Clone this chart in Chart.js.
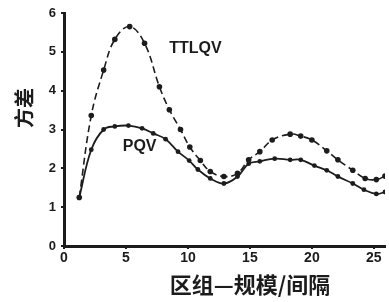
<!DOCTYPE html>
<html>
<head>
<meta charset="utf-8">
<script src="https://cdn.jsdelivr.net/npm/chart.js@4/dist/chart.umd.min.js"></script>
<style>
    html, body { margin: 0; padding: 0; background: #fff; }
    #wrap { width: 389px; height: 302px; }
</style>
</head>
<body>
<div id="wrap"><canvas id="chart"></canvas></div>
<script>
// block size values
const ttlqvX = [1.23, 2.2, 3.2, 4.1, 5.3, 6.5, 7.7, 8.5, 9.4, 10.15, 11.0, 11.8, 12.9, 14.0, 14.9, 15.8, 16.8, 18.25, 19.1, 20.0, 21.2, 22.1, 23.3, 24.3, 25.2, 25.9];
const ttlqvY = [1.25, 3.36, 4.53, 5.32, 5.65, 5.22, 4.1, 3.51, 3.0, 2.55, 2.2, 1.92, 1.79, 1.87, 2.22, 2.43, 2.73, 2.88, 2.83, 2.73, 2.45, 2.22, 1.95, 1.74, 1.71, 1.8];
const pqvX = [1.23, 2.2, 3.2, 4.1, 5.2, 6.3, 7.2, 8.2, 9.2, 10.1, 10.8, 11.8, 12.9, 14.0, 14.9, 15.8, 17.0, 18.25, 19.1, 20.2, 21.2, 22.1, 23.3, 24.2, 25.2, 25.9];
const pqvY = [1.25, 2.48, 3.0, 3.08, 3.1, 3.03, 2.9, 2.75, 2.43, 2.2, 1.97, 1.74, 1.61, 1.79, 2.12, 2.18, 2.25, 2.22, 2.22, 2.07, 1.95, 1.79, 1.61, 1.45, 1.34, 1.39];
const seriesNames = ["TTLQV", "PQV"];
const xTitle = "区组—规模/间隔";
const yTitle = "方差";

const ink = "#1c1c1c";
const toPoints = (xs, ys) => xs.map((x, i) => ({ x: x, y: ys[i] }));

// series names and axis titles drawn where the picture has them
const textPlugin = {
    id: "texts",
    afterDraw(chart) {
        const { ctx, scales } = chart;
        ctx.save();
        ctx.fillStyle = ink;
        ctx.textAlign = "center";
        ctx.textBaseline = "middle";
        ctx.font = 'bold 16px "Liberation Sans", Arial, sans-serif';
        ctx.fillText(seriesNames[0], scales.x.getPixelForValue(10.6), scales.y.getPixelForValue(5.08));
        ctx.fillText(seriesNames[1], scales.x.getPixelForValue(6.1), scales.y.getPixelForValue(2.55));

        ctx.font = 'bold 22px "Noto Sans CJK SC", sans-serif';
        ctx.fillText(xTitle, 250, 285);
        ctx.font = 'bold 20px "Noto Sans CJK SC", sans-serif';
        ctx.translate(24, 108);
        ctx.rotate(-Math.PI / 2);
        ctx.fillText(yTitle, 0, 0);
        ctx.restore();
    },
};

new Chart(document.getElementById("chart"), {
    type: "line",
    data: {
        datasets: [
            {
                label: seriesNames[0],
                data: toPoints(ttlqvX, ttlqvY),
                borderColor: ink,
                backgroundColor: ink,
                borderWidth: 1.6,
                borderDash: [7, 4],
                pointRadius: 2.8,
                pointBorderWidth: 0,
                tension: 0.4,
            },
            {
                label: seriesNames[1],
                data: toPoints(pqvX, pqvY),
                borderColor: ink,
                backgroundColor: ink,
                borderWidth: 1.8,
                pointRadius: 2.4,
                pointBorderWidth: 0,
                tension: 0.4,
            },
        ],
    },
    options: {
        responsive: true,
        maintainAspectRatio: false,
        animation: false,
        layout: { padding: { top: 13, right: 0, left: 0, bottom: 0 } },
        scales: {
            x: {
                type: "linear",
                min: 0,
                max: 25.9,
                afterFit: (scale) => { scale.height = 56; },
                border: { width: 3, color: ink },
                grid: { display: true, drawOnChartArea: false, tickLength: 3, color: ink, lineWidth: 2 },
                ticks: {
                    stepSize: 5,
                    includeBounds: false,
                    padding: 1,
                    color: ink,
                    font: { size: 14, weight: "bold", family: '"Liberation Sans", Arial, sans-serif' },
                },
            },
            y: {
                min: 0,
                max: 6,
                afterFit: (scale) => { scale.width = 64; },
                border: { width: 3, color: ink },
                grid: { display: true, drawOnChartArea: false, tickLength: 3, color: ink, lineWidth: 2 },
                ticks: {
                    stepSize: 1,
                    padding: 5,
                    color: ink,
                    font: { size: 13, weight: "bold", family: '"Liberation Sans", Arial, sans-serif' },
                },
            },
        },
        plugins: {
            legend: { display: false },
            tooltip: { enabled: false },
        },
    },
    plugins: [textPlugin],
});
</script>
</body>
</html>
